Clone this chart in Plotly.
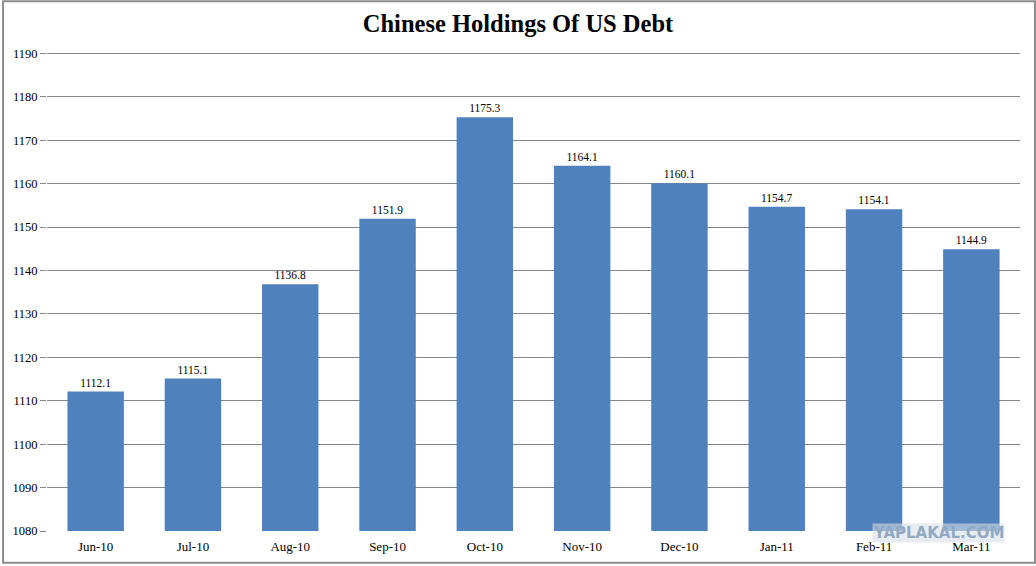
import plotly.graph_objects as go

months = ["Jun-10", "Jul-10", "Aug-10", "Sep-10", "Oct-10",
          "Nov-10", "Dec-10", "Jan-11", "Feb-11", "Mar-11"]
holdings = [1112.1, 1115.1, 1136.8, 1151.9, 1175.3,
            1164.1, 1160.1, 1154.7, 1154.1, 1144.9]
y_ticks = list(range(1080, 1200, 10))

W, H = 1036, 566
L, R, T, B = 45, 16, 49, 33
pw, ph = W - L - R, H - T - B

fig = go.Figure()
fig.add_trace(go.Bar(
    x=months, y=holdings,
    marker=dict(color="#4F81BD", line=dict(width=0)),
    width=0.58,
    text=[f"{v:.1f}" for v in holdings],
    textposition="outside",
    textfont=dict(family="Liberation Serif", size=11.5, color="#000000"),
    cliponaxis=False,
    hoverinfo="x+y",
))

fig.update_layout(
    width=W, height=H,
    margin=dict(l=L, r=R, t=T, b=B),
    paper_bgcolor="white", plot_bgcolor="white",
    title=dict(text="<b>Chinese Holdings Of US Debt</b>", x=0.5, xanchor="center",
               y=1 - 23 / H, yanchor="middle",
               font=dict(family="Liberation Serif", size=24.5, color="#000000")),
    showlegend=False,
    font=dict(family="Liberation Serif", size=12.5, color="#000000"),
)
fig.update_xaxes(showgrid=False, showline=False, ticks="", ticklen=0,
                 ticklabelstandoff=6,
                 tickfont=dict(size=13, color="#000000"))
# top of range a bit above 1190 so its gridline is drawn
fig.update_yaxes(range=[1080, 1191], tickvals=y_ticks, showgrid=True,
                 gridcolor="#868686", gridwidth=1, zeroline=False,
                 showline=False, ticks="outside", ticklen=6, tickcolor="#868686",
                 tickfont=dict(size=12.5, color="#000000"))

# outer border of the image
fig.add_shape(type="rect", xref="paper", yref="paper",
              x0=-(L - 1) / pw, x1=1 + (R - 1) / pw,
              y0=-(B - 1) / ph, y1=1 + (T - 1) / ph,
              line=dict(color="#8c8c8c", width=2), fillcolor="rgba(0,0,0,0)")

# watermark
fig.add_annotation(text="<b>YAPLAKAL.COM</b>", xref="paper", yref="paper",
                   x=(938 - L) / pw, y=-(535 - T - ph) / ph,
                   xanchor="center", yanchor="middle", showarrow=False,
                   font=dict(family="DejaVu Sans", size=15, color="#93a9c2"),
                   bgcolor="rgba(215,224,234,0.6)", borderpad=0)

fig.write_html("out.html", config={"displayModeBar": False},
               post_script="document.body.style.margin='0px';")
